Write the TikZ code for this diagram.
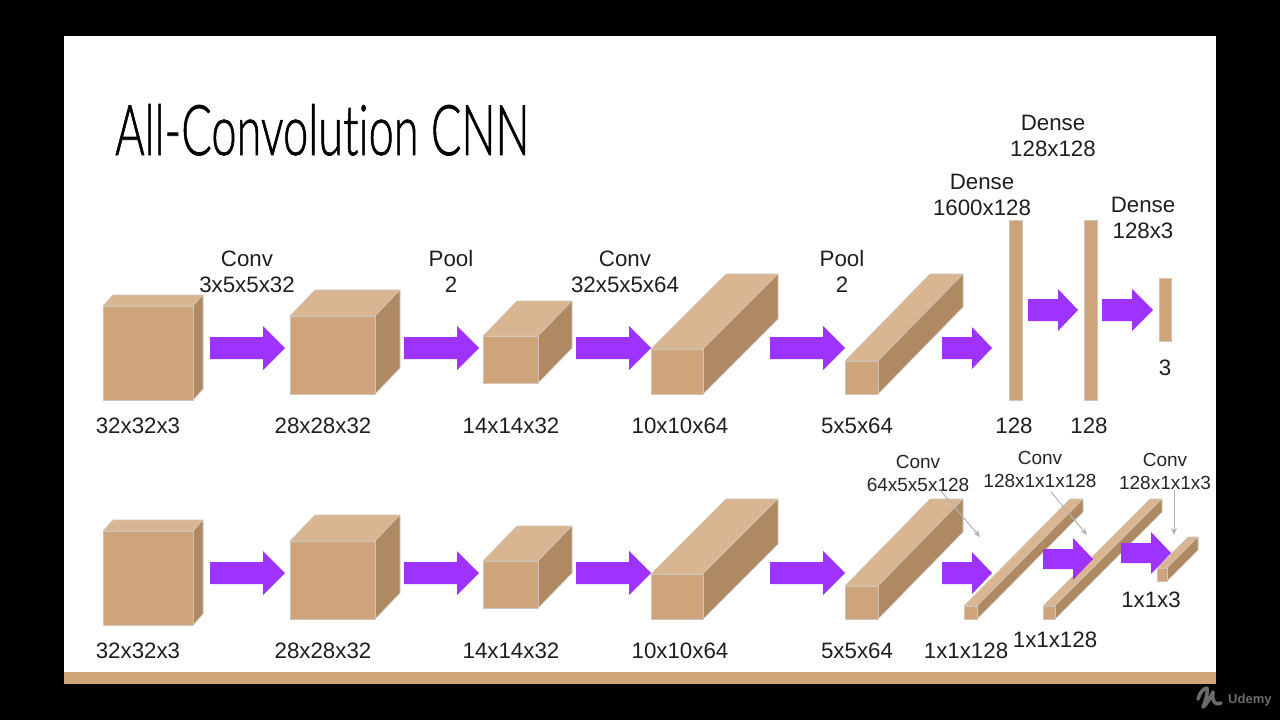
\documentclass[tikz,border=0pt]{standalone}
\usepackage{fontspec}
\setmainfont{Liberation Sans}
\newfontfamily\titlefont[UprightFont={* Light},UprightFeatures={FakeBold=1.1},Ligatures=NoCommon]{Lato}
\definecolor{facefront}{HTML}{CFA47A}
\definecolor{facetop}{HTML}{D9B591}
\definecolor{faceside}{HTML}{AE8961}
\definecolor{faceline}{HTML}{CDC5BA}
\definecolor{blockpurple}{HTML}{9E33FF}
\definecolor{pointer}{HTML}{B4B4B4}
\definecolor{band}{HTML}{D2A679}
\tikzset{
  x=1pt,y=-1pt,
  front/.style={fill=facefront,draw=faceline,line width=.6pt,line join=round},
  topface/.style={fill=facetop,draw=faceline,line width=.6pt,line join=round},
  sideface/.style={fill=faceside,draw=faceline,line width=.6pt,line join=round},
  barface/.style={fill=facefront,draw=faceline,line width=.6pt},
  blockarrow/.style={fill=blockpurple,draw=none},
  lab/.style={font=\fontsize{22.3}{24}\selectfont,anchor=base,inner sep=0pt,text=black!88},
  smalllab/.style={font=\fontsize{19}{21}\selectfont,anchor=base,inner sep=0pt,text=black!85},
  pointerline/.style={draw=pointer,line width=1pt,-{Stealth[length=7pt,width=6pt]}},
}
\usetikzlibrary{arrows.meta}
% name, left, top of front, right, bottom of front, dx, dy
\newcommand{\cuboid}[7]{%
  \draw[topface] (#2,#3) -- (#2+#6,#3-#7) -- (#4+#6,#3-#7) -- (#4,#3) -- cycle;
  \draw[sideface] (#4,#3) -- (#4+#6,#3-#7) -- (#4+#6,#5-#7) -- (#4,#5) -- cycle;
  \node[front,minimum width=#4pt-#2pt,minimum height=#5pt-#3pt,inner sep=0pt,anchor=north west] (#1) at (#2,#3) {};
}
% left, tip, y centre, head start, shaft half-height, head half-height
\newcommand{\blockarr}[6]{%
  \fill[blockarrow] (#1,#3-#5) -- (#4,#3-#5) -- (#4,#3-#6) -- (#2,#3) -- (#4,#3+#6) -- (#4,#3+#5) -- (#1,#3+#5) -- cycle;
}
\begin{document}
\begin{tikzpicture}
\useasboundingbox (0,0) rectangle (1280,720);
\fill[black] (0,0) rectangle (1280,720);
\fill[white] (64,36) rectangle (1216,672);
\fill[band] (64,672) rectangle (1216,684);

\node[anchor=base west,inner sep=0pt,xscale=.645,transform shape,font=\titlefont\fontsize{70}{72}\selectfont,text=black] (title) at (115,155) {All-Convolution CNN};

% top row
\cuboid{a1}{103}{306}{193}{400}{10}{11}
\cuboid{a2}{290}{316}{375}{394}{25}{26}
\cuboid{a3}{483}{336}{538}{383}{34}{35}
\cuboid{a4}{651}{349}{703}{394}{75}{75}
\cuboid{a5}{845}{361}{878}{394}{85}{87}
\node[barface,minimum width=13pt,minimum height=180pt,inner sep=0pt,anchor=north west] (d1) at (1009,220) {};
\node[barface,minimum width=13pt,minimum height=180pt,inner sep=0pt,anchor=north west] (d2) at (1084,220) {};
\node[barface,minimum width=12pt,minimum height=63pt,inner sep=0pt,anchor=north west] (d3) at (1159,278) {};

\blockarr{210}{285}{348}{263}{11}{22}
\blockarr{404}{479}{348}{457}{11}{22}
\blockarr{576}{651}{348}{629}{11}{22}
\blockarr{770}{845}{348}{823}{11}{22}
\blockarr{942}{992}{348}{972}{11}{21}
\blockarr{1028}{1078}{310}{1058}{11}{21}
\blockarr{1102}{1153}{310}{1132}{11}{21}

% bottom row
\cuboid{b1}{103}{531}{193}{625}{10}{11}
\cuboid{b2}{290}{541}{375}{619}{25}{26}
\cuboid{b3}{483}{561}{538}{608}{34}{35}
\cuboid{b4}{651}{574}{703}{619}{75}{75}
\cuboid{b5}{845}{586}{878}{619}{85}{87}
\cuboid{b6}{964}{606}{977}{619}{106}{107}
\cuboid{b7}{1043}{606}{1055}{619}{107}{107}
\cuboid{b8}{1157}{568}{1167}{581}{31}{31}

\blockarr{210}{285}{573}{263}{11}{22}
\blockarr{404}{479}{573}{457}{11}{22}
\blockarr{576}{651}{573}{629}{11}{22}
\blockarr{770}{845}{573}{823}{11}{22}
\blockarr{942}{992}{573}{972}{11}{21}
\blockarr{1043}{1093}{559}{1073}{10}{21}
\blockarr{1121}{1171}{553}{1151}{10}{21}

% labels top
\node[lab] (t1) at (247,266) {Conv};
\node[lab] (t2) at (247,292) {3x5x5x32};
\node[lab] (t3) at (451,266) {Pool};
\node[lab] (t4) at (451,292) {2};
\node[lab] (t5) at (625,266) {Conv};
\node[lab] (t6) at (625,292) {32x5x5x64};
\node[lab] (t7) at (842,266) {Pool};
\node[lab] (t8) at (842,292) {2};
\node[lab] (t9) at (982,189) {Dense};
\node[lab] (t10) at (982,215) {1600x128};
\node[lab] (t11) at (1053,130) {Dense};
\node[lab] (t12) at (1053,156) {128x128};
\node[lab] (t13) at (1143,212) {Dense};
\node[lab] (t14) at (1143,238) {128x3};
\node[lab] (t15) at (1165,375) {3};
\node[lab] (u1) at (138,433) {32x32x3};
\node[lab] (u2) at (323,433) {28x28x32};
\node[lab] (u3) at (511,433) {14x14x32};
\node[lab] (u4) at (680,433) {10x10x64};
\node[lab] (u5) at (857,433) {5x5x64};
\node[lab] (u6) at (1014,433) {128};
\node[lab] (u7) at (1089,433) {128};

% labels bottom
\node[lab] (v1) at (138,658) {32x32x3};
\node[lab] (v2) at (323,658) {28x28x32};
\node[lab] (v3) at (511,658) {14x14x32};
\node[lab] (v4) at (680,658) {10x10x64};
\node[lab] (v5) at (857,658) {5x5x64};
\node[lab] (v6) at (966,658) {1x1x128};
\node[lab] (v7) at (1055,647) {1x1x128};
\node[lab] (v8) at (1151,607) {1x1x3};
\node[smalllab] (w1) at (918,468) {Conv};
\node[smalllab] (w2) at (918,491) {64x5x5x128};
\node[smalllab] (w3) at (1040,464) {Conv};
\node[smalllab] (w4) at (1040,487) {128x1x1x128};
\node[smalllab] (w5) at (1165,466) {Conv};
\node[smalllab] (w6) at (1165,489) {128x1x1x3};

% pointers
\coordinate (p1s) at (940,490); \coordinate (p1e) at (980,537);
\coordinate (p2s) at (1051,492); \coordinate (p2e) at (1087,535);
\coordinate (p3s) at (1174,490); \coordinate (p3e) at (1174,535);
\draw[pointerline] (p1s) -- (p1e);
\draw[pointerline] (p2s) -- (p2e);
\draw[pointerline] (p3s) -- (p3e);

% watermark
\draw[draw=black!58,line width=3.6pt,line cap=round,line join=round]
  (1198,699) .. controls (1200,692) and (1204,688) .. (1207,688) .. controls (1208,694) and (1205,702) .. (1203,707)
  (1203,707) .. controls (1207,704) and (1210,698) .. (1213,692) .. controls (1212,699) and (1213,706) .. (1221,703);
\node[anchor=base west,inner sep=0pt,font=\bfseries\fontsize{13}{14}\selectfont,text=black!58] (udemy) at (1228,703) {Udemy};
\end{tikzpicture}
\end{document}
